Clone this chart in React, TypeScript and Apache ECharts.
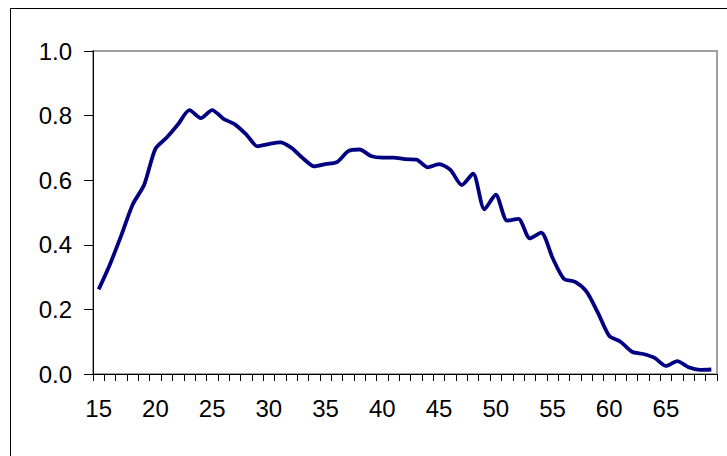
import React, { useEffect, useRef } from "react";
import * as echarts from "echarts";

const ages: string[] = [];
for (let a = 15; a <= 69; a++) ages.push(String(a));

const values: number[] = [
  0.262, 0.34, 0.43, 0.525, 0.585, 0.697, 0.732, 0.773, 0.817, 0.792,
  0.817, 0.79, 0.773, 0.742, 0.705, 0.712, 0.717, 0.7, 0.668, 0.643,
  0.65, 0.656, 0.69, 0.695, 0.675, 0.67, 0.67, 0.665, 0.664, 0.64,
  0.65, 0.632, 0.585, 0.62, 0.51, 0.555, 0.475, 0.48, 0.42, 0.438,
  0.36, 0.295, 0.285, 0.255, 0.19, 0.118, 0.1, 0.069, 0.062, 0.05,
  0.025, 0.04, 0.021, 0.013, 0.014,
];

const FONT = "'Liberation Sans', Arial, sans-serif";

export default function App() {
  const ref = useRef<HTMLDivElement>(null);
  useEffect(() => {
    if (!ref.current) return;
    const chart = echarts.init(ref.current, null, { renderer: "svg" });
    chart.setOption({
      animation: false,
      backgroundColor: "#ffffff",
      graphic: [
        {
          type: "rect",
          shape: { x: 10.5, y: 8.5, width: 800, height: 600 },
          style: { fill: "none", stroke: "#000", lineWidth: 1 },
          silent: true,
          z: -10,
        },
      ],
      grid: {
        left: 93,
        top: 51,
        right: 10,
        bottom: 82,
        show: true,
        borderColor: "#a0a0a0",
        borderWidth: 2,
        backgroundColor: "transparent",
      },
      xAxis: {
        type: "category",
        data: ages,
        boundaryGap: true,
        axisLine: { show: true, lineStyle: { color: "#000", width: 1 } },
        axisTick: { show: true, interval: 0, length: 7, lineStyle: { color: "#000" } },
        axisLabel: {
          interval: 4,
          fontSize: 24,
          fontFamily: FONT,
          color: "#000",
          margin: 22,
        },
        splitLine: { show: false },
      },
      yAxis: {
        type: "value",
        min: 0,
        max: 1,
        interval: 0.2,
        axisLine: { show: true, lineStyle: { color: "#000", width: 1 } },
        axisTick: { show: true, length: 9, lineStyle: { color: "#000" } },
        axisLabel: {
          fontSize: 24,
          fontFamily: FONT,
          color: "#000",
          margin: 21,
          formatter: (v: number) => v.toFixed(1),
        },
        splitLine: { show: false },
      },
      series: [
        {
          type: "line",
          data: values,
          smooth: 0.25,
          showSymbol: false,
          symbol: "none",
          lineStyle: { color: "#000080", width: 3.8 },
          z: 5,
        },
      ],
    });
    return () => chart.dispose();
  }, []);
  return (
    <div
      ref={ref}
      style={{ position: "fixed", left: 0, top: 0, width: 727, height: 456 }}
    />
  );
}
